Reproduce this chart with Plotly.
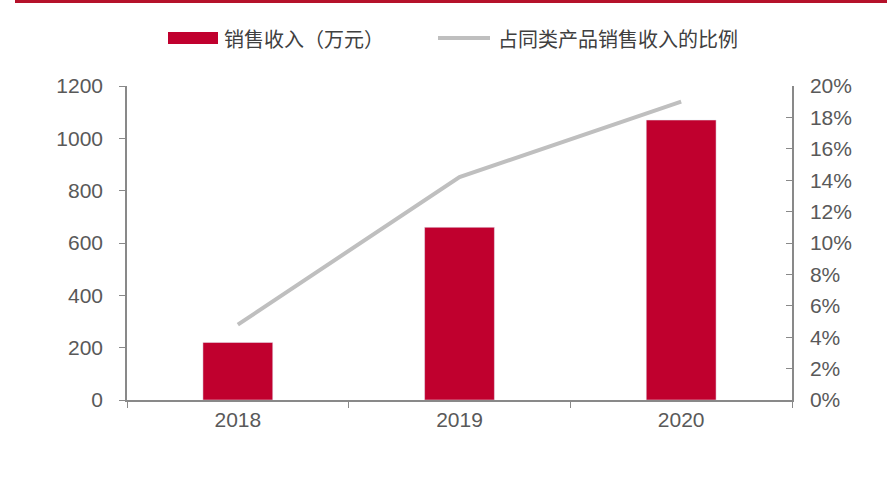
import plotly.graph_objects as go

years = ["2018", "2019", "2020"]
revenue = [220, 660, 1070]          # 销售收入（万元）
share = [0.048, 0.142, 0.19]        # 占同类产品销售收入的比例

bar_name = "销售收入（万元）"
line_name = "占同类产品销售收入的比例"

W, H = 887, 477
L, R, T, B = 127, 95, 86, 77
bar_red = "#c0002e"
line_grey = "#bfbfbf"
axis_grey = "#898989"
label_grey = "#595959"
tick_font = dict(family="Liberation Sans, Arial, sans-serif", size=21, color=label_grey)
legend_font = dict(family="Noto Sans CJK SC", size=20, color="#404040")


# pixel -> paper coordinates (for the hand-made legend and top rule)
def px(x):
    return (x - L) / (W - L - R)


def py(y):
    return (H - B - y) / (H - T - B)


fig = go.Figure()
fig.add_trace(go.Bar(x=years, y=revenue, name=bar_name, marker_color=bar_red, yaxis="y"))
fig.add_trace(go.Scatter(x=years, y=share, name=line_name, mode="lines",
                         line=dict(color=line_grey, width=4), yaxis="y2"))

shapes = [
    # red rule along the top edge
    dict(type="line", xref="paper", yref="paper", x0=px(15), x1=px(887), y0=py(1.5), y1=py(1.5),
         line=dict(color="#b5112a", width=3)),
    # legend swatches
    dict(type="rect", xref="paper", yref="paper", x0=px(168), x1=px(218), y0=py(44), y1=py(32),
         fillcolor=bar_red, line=dict(width=0)),
    dict(type="line", xref="paper", yref="paper", x0=px(438), x1=px(490), y0=py(38), y1=py(38),
         line=dict(color=line_grey, width=4)),
]
annotations = [
    dict(text=bar_name, xref="paper", yref="paper", x=px(222), y=py(38), xanchor="left",
         yanchor="middle", showarrow=False, font=legend_font),
    dict(text=line_name, xref="paper", yref="paper", x=px(496), y=py(38), xanchor="left",
         yanchor="middle", showarrow=False, font=legend_font),
]

fig.update_layout(
    width=W, height=H,
    paper_bgcolor="white", plot_bgcolor="white",
    margin=dict(l=L, r=R, t=T, b=B, autoexpand=False),
    bargap=0.685,
    showlegend=False,
    xaxis=dict(showline=True, linecolor=axis_grey, linewidth=1.5,
               ticks="outside", tickson="boundaries", ticklen=6, tickcolor=axis_grey,
               tickfont=tick_font, showgrid=False),
    yaxis=dict(range=[0, 1200], dtick=200, showline=True, linecolor=axis_grey, linewidth=1.5,
               ticks="outside", ticklen=6, tickcolor=axis_grey, tickfont=tick_font,
               showgrid=False, zeroline=False, ticklabelstandoff=12),
    yaxis2=dict(range=[0, 0.2], dtick=0.02, tickformat=".0%", overlaying="y", side="right",
                showline=True, linecolor=axis_grey, linewidth=1.5,
                ticks="inside", ticklen=6, tickcolor=axis_grey, tickfont=tick_font,
                showgrid=False, zeroline=False, ticklabelstandoff=12),
    shapes=shapes,
    annotations=annotations,
)

# page has a default 8px body margin; drop it so the figure sits at the window corner
fig.write_html("out.html", config={"displayModeBar": False},
               post_script="document.body.style.margin='0';")
